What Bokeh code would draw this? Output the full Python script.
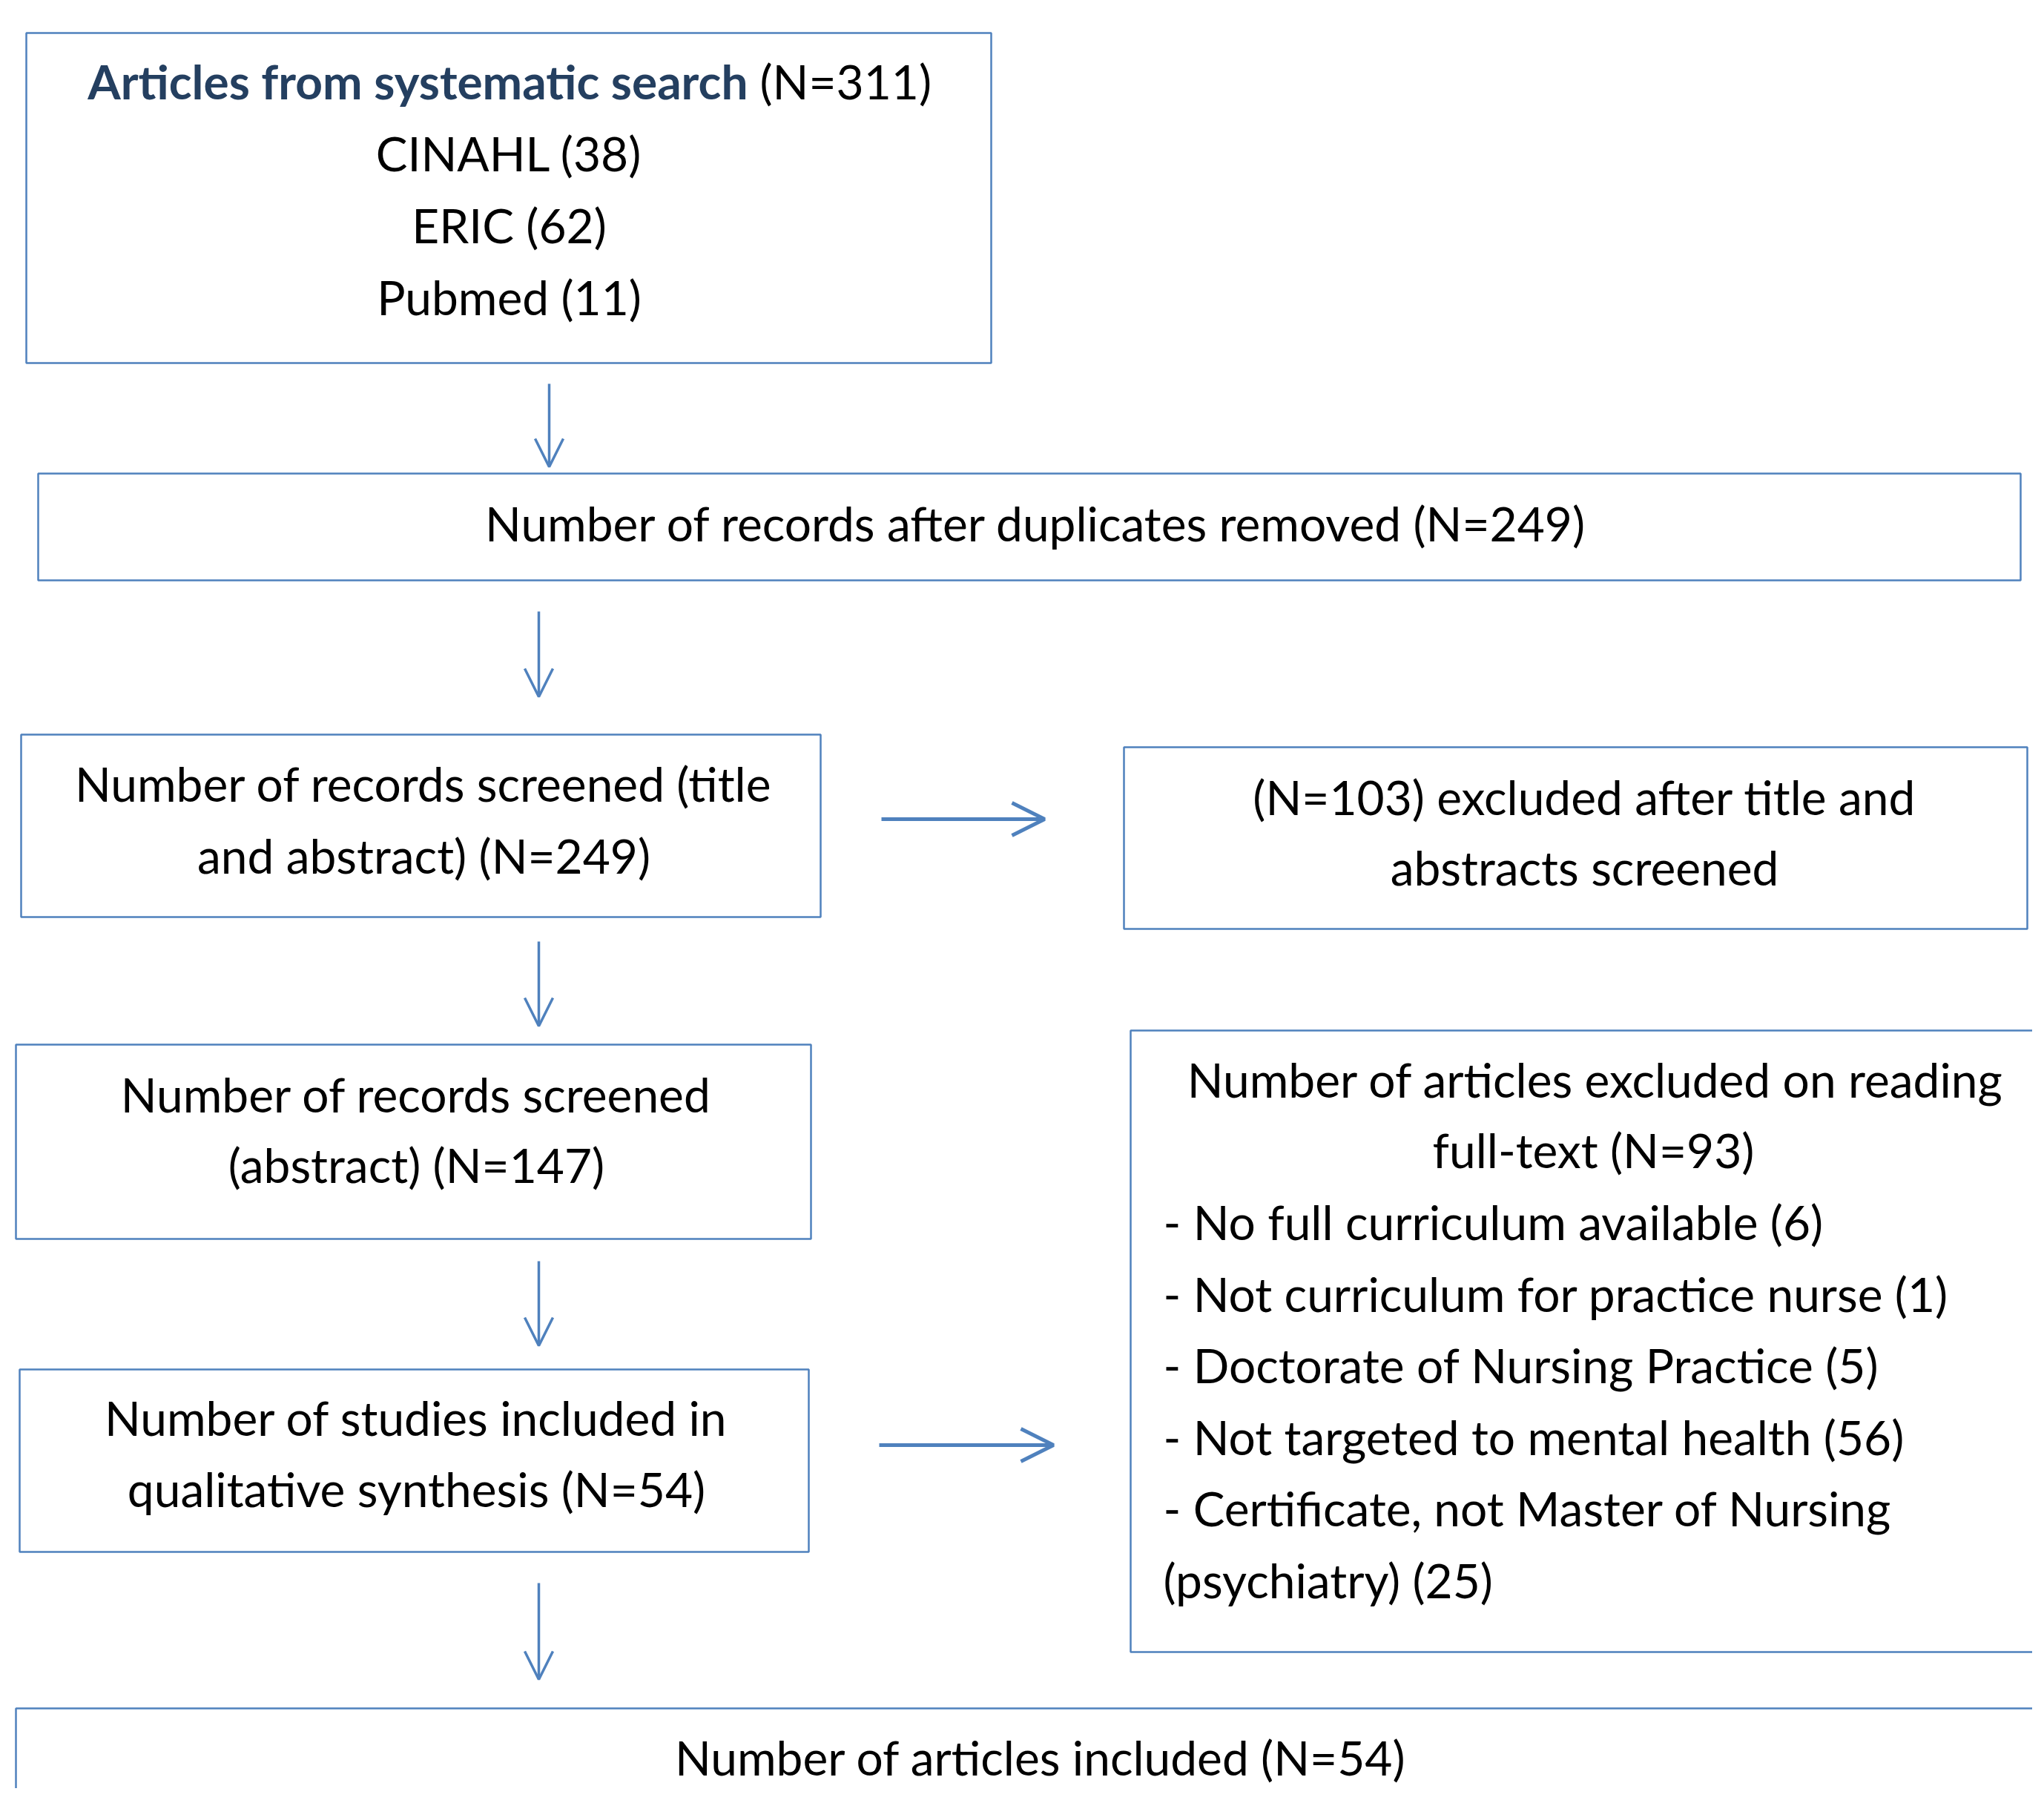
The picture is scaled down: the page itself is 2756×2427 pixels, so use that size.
from bokeh.plotting import figure
from bokeh.models import Range1d, Arrow, OpenHead, ColumnDataSource
from bokeh.core.properties import value
from bokeh.embed import file_html
from bokeh.resources import INLINE

# ---------------- data ----------------
search_title = "Articles from systematic search"
search_total = 311
search_sources = ["CINAHL", "ERIC", "Pubmed"]
search_counts = [38, 62, 11]
after_duplicates = 249
screened_title_abstract = 249
excluded_title_abstract = 103
screened_abstract = 147
excluded_fulltext = 93
exclusion_reasons = [
    "No full curriculum available",
    "Not curriculum for practice nurse",
    "Doctorate of Nursing Practice",
    "Not targeted to mental health",
    "Certificate, not Master of Nursing\n(psychiatry)",
]
exclusion_counts = [6, 1, 5, 56, 25]
included_qualitative = 54
included_total = 54

# ---------------- layout (pixel space) ----------------
W, H = 2740, 2411
FONT = "Lato"
FS = "64px"
LINE = 97
BLUE = "#4F81BD"
NAVY = "#243F60"

p = figure(width=W, height=H, output_backend="svg", toolbar_location=None,
           x_range=Range1d(0, W), y_range=Range1d(H, 0),
           min_border=0, outline_line_color=None)
p.axis.visible = False
p.grid.visible = False

# boxes: left, right, top, bottom
boxes = dict(
    b1=(35, 1336, 44, 489),
    b2=(51, 2724, 638, 782),
    b3=(28, 1106, 990, 1236),
    b4=(1515, 2733, 1007, 1252),
    b5=(21, 1093, 1408, 1670),
    b6=(1524, 2800, 1389, 2227),
    b7=(26, 1090, 1846, 2092),
    b8=(21, 2800, 2303, 2500),
)
bx = list(boxes.values())
p.quad(left=[b[0] for b in bx], right=[b[1] for b in bx],
       top=[b[2] for b in bx], bottom=[b[3] for b in bx],
       fill_color="white", line_color=BLUE, line_width=2.5)

# arrows
def arrow(x0, y0, x1, y1, lw, size):
    p.add_layout(Arrow(x_start=x0, y_start=y0, x_end=x1, y_end=y1,
                       line_color=BLUE, line_width=lw,
                       end=OpenHead(size=size, line_color=BLUE, line_width=lw)))

for (x, y0, y1) in [(740, 517, 629), (726, 824, 939), (726, 1269, 1383),
                    (726, 1700, 1814), (726, 2134, 2264)]:
    arrow(x, y0, x, y1, 3.5, 38)
arrow(1188, 1104, 1408, 1104, 5, 44)
arrow(1185, 1948, 1420, 1948, 5, 44)

# texts
tx, ty, tt, ta = [], [], [], []
def add(x, y, t, align="center"):
    tx.append(x); ty.append(y); tt.append(t); ta.append(align)

# box1
for i, (s, c) in enumerate(zip(search_sources, search_counts)):
    add(686, 206 + i * LINE, f"{s} ({c})")
add(1397, 705, f"Number of records after duplicates removed (N={after_duplicates})")
add(571, 1056, "Number of records screened (title")
add(571, 1153, f"and abstract) (N={screened_title_abstract})")
add(2136, 1074, f"(N={excluded_title_abstract}) excluded after title and")
add(2136, 1169, "abstracts screened")
add(561, 1475, "Number of records screened")
add(561, 1570, f"(abstract) (N={screened_abstract})")
add(2151, 1455, "Number of articles excluded on reading")
add(2148, 1550, f"full-text (N={excluded_fulltext})")
y = 1647
for r, c in zip(exclusion_reasons, exclusion_counts):
    parts = f"- {r} ({c})".split("\n")
    for part in parts:
        add(1568, y, part, "left")
        y += LINE - 0.5
add(561, 1911, "Number of studies included in")
add(561, 2007, f"qualitative synthesis (N={included_qualitative})")
add(1403, 2369, f"Number of articles included (N={included_total})")

src = ColumnDataSource(dict(x=tx, y=ty, t=tt, a=ta))
p.text(x="x", y="y", text="t", text_align="a", source=src,
       text_baseline="middle", text_font=value(FONT), text_font_size=FS,
       text_color="black")

# title line of box1 (bold part + normal part)
p.text(x=[1008], y=[109], text=[search_title], text_align="right",
       text_baseline="middle", text_font=value(FONT), text_font_size=FS,
       text_font_style="bold", text_color=NAVY)
p.text(x=[1024], y=[109], text=[f"(N={search_total})"], text_align="left",
       text_baseline="middle", text_font=value(FONT), text_font_size=FS,
       text_color="black")

open("out.html", "w").write(file_html(p, INLINE))
